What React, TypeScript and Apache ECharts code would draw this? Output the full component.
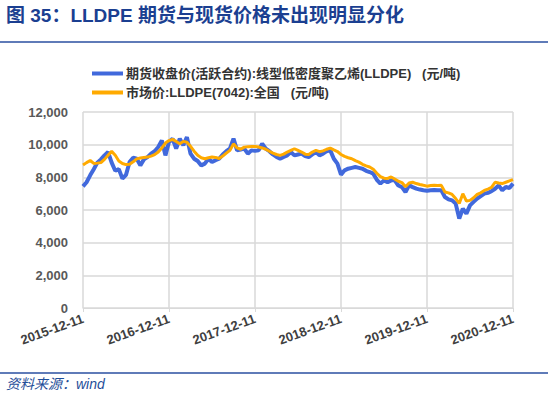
import React, { useEffect, useRef } from "react";
import * as echarts from "echarts";

// Half-monthly observation dates from 2015-12-11 to 2020-12-11
const categories: string[] = (() => {
  const out: string[] = [];
  let y = 2015;
  let m = 12;
  while (true) {
    const mm = m < 10 ? "0" + m : "" + m;
    out.push(`${y}-${mm}-11`);
    if (y === 2020 && m === 12) break;
    out.push(`${y}-${mm}-26`);
    m += 1;
    if (m > 12) {
      m = 1;
      y += 1;
    }
  }
  return out;
})();

const tickLabels = ["2015-12-11", "2016-12-11", "2017-12-11", "2018-12-11", "2019-12-11", "2020-12-11"];

const futuresName = "期货收盘价(活跃合约):线型低密度聚乙烯(LLDPE)   (元/吨)";
const spotName = "市场价:LLDPE(7042):全国   (元/吨)";

const futures = [
  7450, 7700, 8120, 8500, 8900, 9100, 9345, 9550, 8900, 8400,
  8500, 7920, 8150, 8935, 9200, 9140, 8730, 9100, 9240, 9450,
  9600, 9855, 10260, 9345, 10160, 10365, 9755, 10365, 9960, 10465,
  9450, 9140, 9000, 8730, 8840, 9140, 8935, 9050, 9140, 9400,
  9600, 9755, 10365, 9650, 9700, 9755, 9450, 9650, 9620, 9650,
  10060, 9755, 9600, 9400, 9250, 9140, 9250, 9345, 9550, 9345,
  9400, 9450, 9300, 9240, 9400, 9550, 9345, 9450, 9600, 9650,
  9140, 8840, 8165, 8430, 8530, 8580, 8630, 8580, 8530, 8400,
  8325, 8225, 7850, 7615, 7815, 7700, 7815, 7815, 7500, 7405,
  7100, 7510, 7400, 7310, 7250, 7205, 7180, 7205, 7220, 7205,
  7205, 6795, 6650, 6590, 6390, 5475, 6085, 5780, 6285, 6500,
  6700, 6850, 7000, 7050, 7150, 7300, 7510, 7205, 7405, 7350,
  7615,
];

const spot = [
  8750, 8900, 9030, 8850, 8870, 8900, 9100, 9350, 9590, 9350,
  9000, 8850, 8780, 8800, 8950, 9130, 9180, 9220, 9240, 9300,
  9390, 9550, 9800, 10100, 10250, 10320, 10200, 10060, 10200, 10150,
  9900, 9600, 9350, 9200, 9140, 9200, 9240, 9220, 9150, 9300,
  9480, 9650, 10050, 9800, 9720, 9850, 9880, 9890, 9895, 9860,
  9800, 9720, 9600, 9480, 9400, 9345, 9420, 9550, 9650, 9750,
  9650, 9550, 9420, 9400, 9550, 9650, 9570, 9620, 9720, 9790,
  9680, 9580, 9400, 9280, 9200, 9140, 9020, 8930, 8800, 8700,
  8630, 8500, 8250, 8050, 7950, 7930, 8020, 7900, 7760, 7680,
  7420, 7650, 7700, 7620, 7560, 7510, 7460, 7500, 7510, 7500,
  7510, 7100, 7050, 6950, 6700, 6400, 7000, 6550, 6590, 6750,
  6950, 7050, 7200, 7280, 7380, 7700, 7650, 7620, 7700, 7780,
  7860,
];

const FONT = '"Liberation Sans", Arial, "Noto Sans CJK SC", sans-serif';

export default function App() {
  const ref = useRef<HTMLDivElement>(null);

  useEffect(() => {
    if (!ref.current) return;
    const chart = echarts.init(ref.current, undefined, { renderer: "svg" });
    const showTick = (index: number, value: string) => tickLabels.indexOf(value) >= 0;
    chart.setOption({
      animation: false,
      backgroundColor: "#ffffff",
      textStyle: { fontFamily: FONT },
      graphic: [
        {
          type: "text",
          left: 6,
          top: 6,
          style: {
            text: "图 35：LLDPE 期货与现货价格未出现明显分化",
            fontSize: 19,
            fontWeight: "bold",
            fill: "#1B3F91",
            fontFamily: FONT,
          },
        },
        {
          type: "line",
          shape: { x1: 0, y1: 42, x2: 548, y2: 42 },
          style: { stroke: "#2A4FA0", lineWidth: 1.5 },
        },
        {
          type: "line",
          shape: { x1: 0, y1: 373, x2: 548, y2: 373 },
          style: { stroke: "#2A4FA0", lineWidth: 1.5 },
        },
        {
          type: "text",
          left: 6,
          top: 377,
          style: {
            text: "资料来源：wind",
            fontSize: 14,
            fontStyle: "italic",
            fill: "#1F4E99",
            fontFamily: FONT,
          },
        },
      ],
      legend: {
        orient: "vertical",
        left: 87,
        top: 62,
        itemWidth: 31,
        itemHeight: 4,
        itemGap: 6,
        icon: "rect",
        data: [futuresName, spotName],
        textStyle: { fontSize: 13, fontWeight: "bold", color: "#333333", fontFamily: FONT, padding: [0, 0, 0, -2] },
      },
      grid: { left: 83, right: 37, top: 112, bottom: 90, containLabel: false },
      xAxis: {
        type: "category",
        data: categories,
        boundaryGap: false,
        axisLine: { show: true, lineStyle: { color: "#D9D9D9", width: 1 } },
        axisTick: { show: true, interval: showTick, length: 4, lineStyle: { color: "#D9D9D9" } },
        splitLine: { show: true, interval: showTick, lineStyle: { color: "#D9D9D9", width: 1.5 } },
        axisLabel: {
          interval: showTick,
          rotate: 20,
          margin: 10,
          fontSize: 13,
          fontWeight: "bold",
          color: "#404040",
          fontFamily: FONT,
        },
      },
      yAxis: {
        type: "value",
        min: 0,
        max: 12000,
        interval: 2000,
        axisLine: { show: false },
        axisTick: { show: false },
        splitLine: { show: true, lineStyle: { color: "#D9D9D9", width: 1.5 } },
        axisLabel: {
          margin: 15,
          fontSize: 13,
          fontWeight: "bold",
          color: "#595959",
          fontFamily: FONT,
          formatter: (v: number) => v.toLocaleString("en-US"),
        },
      },
      series: [
        {
          name: futuresName,
          type: "line",
          data: futures,
          symbol: "none",
          itemStyle: { color: "#4169DC" },
          lineStyle: { color: "#4169DC", width: 4 },
        },
        {
          name: spotName,
          type: "line",
          data: spot,
          symbol: "none",
          itemStyle: { color: "#FFAA00" },
          lineStyle: { color: "#FFAA00", width: 3 },
        },
      ],
    });
    return () => chart.dispose();
  }, []);

  return (
    <div
      ref={ref}
      style={{ position: "absolute", left: 0, top: 0, width: 550, height: 398 }}
    />
  );
}
